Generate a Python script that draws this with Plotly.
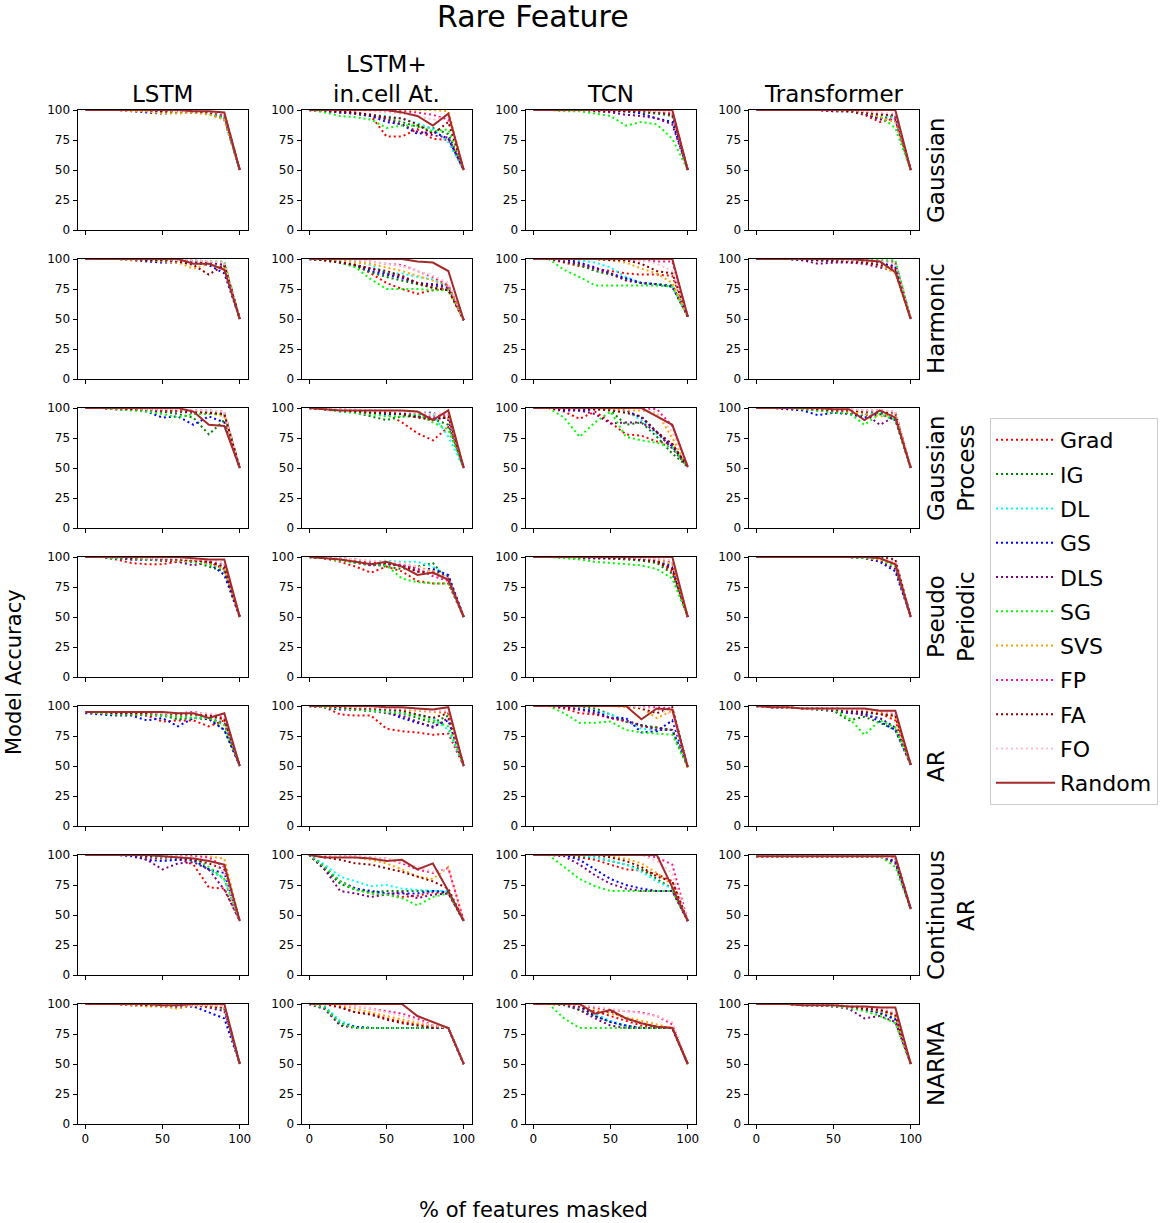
import plotly.graph_objects as go

# ---------------- data ----------------
PCT = [0, 10, 20, 30, 40, 50, 60, 70, 80, 90, 100]
METHODS = ["Grad", "IG", "DL", "GS", "DLS", "SG", "SVS", "FP", "FA", "FO", "Random"]
COLORS = ["#ff0000", "#008000", "#00ffff", "#0000ff", "#800080", "#00ff00",
          "#ffa500", "#ff1493", "#8b0000", "#ffc0cb", "#a52a2a"]
MODELS = ["LSTM", "LSTM+<br>in.cell At.", "TCN", "Transformer"]
DATASETS = ["Gaussian", "Harmonic", "Gaussian<br>Process", "Pseudo<br>Periodic",
            "AR", "Continuous<br>AR", "NARMA"]
X_TICKS = [0, 50, 100]
Y_TICKS = [0, 25, 50, 75, 100]

# each panel: rows follow METHODS order, columns follow PCT
LSTM_GAUSSIAN = [
    [100, 100, 100, 100, 99, 99, 99, 99, 98, 96, 50],
    [100, 100, 100, 100, 99, 99, 99, 98, 98, 94, 50],
    [100, 100, 100, 100, 100, 99, 99, 99, 98, 95, 50],
    [100, 100, 100, 99, 98, 97, 98, 98, 97, 92, 50],
    [100, 100, 100, 100, 99, 99, 98, 98, 97, 94, 50],
    [100, 100, 100, 100, 99, 99, 98, 98, 97, 93, 50],
    [100, 100, 100, 99, 99, 97, 97, 98, 96, 92, 50],
    [100, 100, 100, 100, 100, 99, 99, 99, 98, 96, 50],
    [100, 100, 100, 100, 100, 99, 99, 99, 98, 97, 50],
    [100, 100, 100, 100, 100, 100, 99, 99, 99, 97, 50],
    [100, 100, 100, 100, 100, 100, 100, 99, 99, 98, 50],
]
LSTMCELL_GAUSSIAN = [
    [100, 99, 98, 97, 95, 78, 78, 84, 76, 75, 50],
    [100, 99, 98, 97, 95, 93, 90, 86, 85, 80, 50],
    [100, 99, 98, 97, 96, 95, 93, 89, 84, 73, 50],
    [100, 99, 98, 97, 95, 90, 88, 80, 82, 76, 50],
    [100, 99, 98, 97, 96, 92, 88, 82, 79, 77, 50],
    [100, 98, 95, 94, 92, 85, 87, 87, 82, 84, 50],
    [100, 100, 100, 100, 100, 100, 100, 100, 100, 99, 50],
    [100, 100, 100, 100, 100, 99, 99, 98, 96, 92, 50],
    [100, 100, 99, 98, 96, 94, 93, 88, 80, 90, 50],
    [100, 100, 100, 100, 99, 98, 97, 95, 92, 95, 50],
    [100, 100, 100, 100, 100, 100, 98, 95, 87, 97, 50],
]
TCN_GAUSSIAN = [
    [100, 100, 100, 100, 100, 100, 99, 99, 98, 97, 50],
    [100, 100, 100, 100, 100, 99, 99, 98, 97, 95, 50],
    [100, 100, 100, 100, 100, 100, 99, 99, 98, 96, 50],
    [100, 100, 100, 100, 100, 99, 99, 97, 93, 90, 50],
    [100, 100, 100, 100, 99, 98, 96, 95, 93, 88, 50],
    [100, 100, 99, 99, 97, 95, 87, 90, 88, 76, 50],
    [100, 100, 100, 100, 100, 100, 100, 99, 99, 98, 50],
    [100, 100, 100, 100, 100, 100, 100, 100, 99, 98, 50],
    [100, 100, 100, 100, 100, 100, 99, 99, 98, 96, 50],
    [100, 100, 100, 100, 100, 100, 100, 100, 99, 99, 50],
    [100, 100, 100, 100, 100, 100, 100, 100, 100, 100, 50],
]
TRANSFORMER_GAUSSIAN = [
    [100, 100, 100, 100, 100, 100, 99, 96, 90, 93, 50],
    [100, 100, 100, 100, 100, 100, 99, 97, 93, 95, 50],
    [100, 100, 100, 100, 100, 100, 99, 98, 96, 94, 50],
    [100, 100, 100, 100, 100, 99, 99, 97, 93, 91, 50],
    [100, 100, 100, 100, 100, 99, 99, 97, 92, 92, 50],
    [100, 100, 100, 100, 100, 100, 99, 98, 95, 85, 50],
    [100, 100, 100, 100, 100, 100, 99, 98, 94, 90, 50],
    [100, 100, 100, 100, 100, 100, 100, 99, 97, 95, 50],
    [100, 100, 100, 100, 100, 100, 99, 98, 96, 96, 50],
    [100, 100, 100, 100, 100, 100, 100, 99, 98, 97, 50],
    [100, 100, 100, 100, 100, 100, 100, 100, 100, 100, 50],
]

LSTM_HARMONIC = [
    [100, 100, 100, 100, 99, 99, 99, 98, 97, 95, 50],
    [100, 100, 100, 100, 99, 99, 99, 98, 97, 96, 50],
    [100, 100, 100, 100, 99, 99, 99, 98, 96, 93, 50],
    [100, 100, 100, 99, 98, 97, 97, 97, 95, 88, 50],
    [100, 100, 100, 100, 99, 99, 98, 98, 97, 95, 50],
    [100, 100, 100, 100, 100, 99, 99, 99, 98, 98, 50],
    [100, 100, 100, 99, 99, 98, 97, 92, 96, 92, 50],
    [100, 100, 100, 100, 100, 100, 99, 99, 98, 97, 50],
    [100, 100, 100, 100, 99, 99, 98, 95, 87, 95, 50],
    [100, 100, 100, 100, 100, 100, 99, 99, 98, 97, 50],
    [100, 100, 100, 100, 100, 100, 100, 96, 96, 91, 50],
]
LSTMCELL_HARMONIC = [
    [100, 99, 97, 95, 88, 80, 75, 71, 74, 75, 49],
    [100, 99, 97, 94, 89, 85, 82, 79, 76, 74, 49],
    [100, 100, 99, 98, 95, 88, 88, 85, 83, 77, 49],
    [100, 99, 98, 95, 90, 87, 84, 80, 79, 78, 49],
    [100, 99, 97, 95, 92, 88, 85, 80, 78, 76, 49],
    [100, 99, 97, 93, 83, 75, 75, 75, 74, 74, 49],
    [100, 100, 99, 97, 96, 93, 90, 86, 82, 78, 49],
    [100, 100, 100, 99, 98, 96, 95, 90, 85, 78, 49],
    [100, 99, 97, 95, 92, 90, 86, 80, 76, 74, 49],
    [100, 100, 100, 99, 98, 96, 94, 90, 86, 80, 49],
    [100, 100, 100, 100, 100, 100, 100, 98, 97, 90, 49],
]
TCN_HARMONIC = [
    [100, 100, 97, 94, 92, 90, 88, 87, 87, 86, 52],
    [100, 100, 98, 95, 90, 87, 83, 80, 79, 78, 52],
    [100, 100, 100, 99, 97, 93, 85, 80, 79, 77, 52],
    [100, 100, 100, 97, 93, 88, 84, 80, 79, 77, 52],
    [100, 100, 98, 96, 92, 88, 82, 80, 79, 77, 52],
    [100, 100, 91, 85, 78, 78, 78, 78, 78, 77, 52],
    [100, 100, 100, 100, 100, 99, 97, 92, 88, 80, 52],
    [100, 100, 100, 100, 100, 100, 99, 99, 98, 98, 52],
    [100, 100, 100, 100, 100, 99, 99, 96, 90, 88, 52],
    [100, 100, 100, 100, 100, 100, 100, 99, 96, 90, 52],
    [100, 100, 100, 100, 100, 100, 100, 100, 100, 100, 52],
]
TRANSFORMER_HARMONIC = [
    [100, 100, 100, 100, 100, 99, 99, 98, 97, 93, 50],
    [100, 100, 100, 100, 99, 99, 99, 99, 98, 97, 50],
    [100, 100, 100, 100, 100, 99, 99, 99, 98, 96, 50],
    [100, 100, 100, 99, 99, 98, 98, 98, 97, 94, 50],
    [100, 100, 100, 99, 96, 97, 97, 96, 93, 90, 50],
    [100, 100, 100, 100, 100, 100, 100, 100, 99, 99, 50],
    [100, 100, 100, 100, 100, 99, 99, 98, 95, 88, 50],
    [100, 100, 100, 100, 100, 100, 99, 99, 98, 97, 50],
    [100, 100, 100, 100, 99, 99, 98, 97, 95, 92, 50],
    [100, 100, 100, 100, 100, 100, 99, 99, 98, 96, 50],
    [100, 100, 100, 100, 100, 100, 100, 99, 98, 89, 50],
]

LSTM_GP = [
    [100, 100, 100, 99, 99, 98, 98, 97, 97, 96, 50],
    [100, 100, 99, 99, 98, 97, 95, 92, 78, 90, 50],
    [100, 100, 100, 99, 99, 98, 98, 97, 97, 95, 50],
    [100, 100, 99, 99, 97, 92, 93, 86, 93, 88, 50],
    [100, 100, 99, 99, 98, 97, 97, 96, 96, 94, 50],
    [100, 100, 99, 98, 97, 95, 92, 95, 95, 95, 50],
    [100, 100, 100, 99, 99, 98, 98, 97, 96, 93, 50],
    [100, 100, 100, 100, 99, 99, 99, 98, 98, 97, 50],
    [100, 100, 100, 99, 99, 98, 98, 97, 96, 95, 50],
    [100, 100, 100, 100, 99, 99, 99, 98, 98, 97, 50],
    [100, 100, 100, 100, 100, 100, 100, 97, 86, 85, 50],
]
LSTMCELL_GP = [
    [100, 99, 98, 97, 96, 95, 88, 79, 73, 84, 50],
    [100, 99, 98, 96, 93, 90, 93, 93, 91, 86, 50],
    [100, 99, 97, 96, 95, 94, 95, 94, 95, 76, 50],
    [100, 99, 98, 97, 96, 95, 95, 96, 96, 90, 50],
    [100, 99, 98, 97, 97, 96, 95, 93, 91, 92, 50],
    [100, 99, 97, 96, 95, 93, 93, 95, 88, 82, 50],
    [100, 99, 99, 98, 98, 97, 97, 96, 95, 92, 50],
    [100, 99, 99, 98, 98, 97, 97, 96, 92, 95, 50],
    [100, 99, 98, 97, 96, 96, 95, 92, 90, 93, 50],
    [100, 100, 99, 99, 98, 98, 97, 96, 95, 96, 50],
    [100, 99, 98, 98, 98, 98, 98, 97, 90, 98, 50],
]
TCN_GP = [
    [100, 100, 97, 91, 97, 88, 78, 77, 72, 70, 51],
    [100, 100, 99, 98, 99, 98, 86, 88, 76, 62, 51],
    [100, 100, 100, 99, 99, 98, 97, 90, 78, 68, 51],
    [100, 100, 98, 98, 99, 100, 98, 92, 80, 68, 51],
    [100, 100, 99, 98, 95, 87, 88, 88, 80, 66, 51],
    [100, 100, 92, 76, 88, 97, 76, 73, 71, 67, 51],
    [100, 100, 100, 100, 100, 99, 98, 98, 96, 75, 51],
    [100, 100, 100, 100, 100, 100, 100, 100, 99, 85, 51],
    [100, 100, 100, 100, 99, 98, 96, 93, 80, 70, 51],
    [100, 100, 100, 100, 100, 100, 100, 99, 95, 80, 51],
    [100, 100, 100, 100, 100, 100, 100, 100, 93, 86, 51],
]
TRANSFORMER_GP = [
    [100, 100, 100, 100, 99, 98, 97, 96, 96, 93, 50],
    [100, 100, 100, 99, 98, 97, 96, 94, 96, 91, 50],
    [100, 100, 100, 99, 98, 97, 96, 95, 97, 92, 50],
    [100, 100, 99, 98, 94, 96, 95, 92, 95, 90, 50],
    [100, 100, 100, 99, 98, 97, 96, 96, 86, 93, 50],
    [100, 100, 100, 99, 98, 96, 96, 86, 95, 90, 50],
    [100, 100, 100, 100, 99, 98, 97, 95, 93, 94, 50],
    [100, 100, 100, 100, 100, 99, 99, 98, 98, 97, 50],
    [100, 100, 100, 100, 99, 98, 98, 97, 97, 96, 50],
    [100, 100, 100, 100, 100, 99, 99, 98, 98, 97, 50],
    [100, 100, 100, 100, 100, 99, 99, 90, 98, 92, 50],
]

LSTM_PP = [
    [100, 100, 98, 95, 94, 94, 96, 97, 96, 90, 50],
    [100, 100, 99, 98, 98, 97, 97, 96, 92, 88, 50],
    [100, 100, 99, 99, 98, 98, 97, 97, 96, 92, 50],
    [100, 100, 99, 98, 98, 98, 97, 96, 95, 85, 50],
    [100, 100, 99, 99, 98, 97, 96, 93, 96, 90, 50],
    [100, 100, 99, 99, 98, 98, 97, 96, 94, 90, 50],
    [100, 100, 100, 99, 99, 98, 97, 97, 95, 90, 50],
    [100, 100, 100, 100, 99, 99, 98, 98, 97, 94, 50],
    [100, 100, 100, 99, 99, 98, 98, 97, 96, 92, 50],
    [100, 100, 100, 100, 99, 99, 99, 98, 98, 95, 50],
    [100, 100, 100, 100, 100, 100, 100, 99, 98, 98, 50],
]
LSTMCELL_PP = [
    [100, 99, 96, 92, 87, 92, 88, 80, 78, 78, 50],
    [100, 99, 98, 96, 94, 92, 90, 92, 95, 80, 50],
    [100, 100, 99, 98, 96, 97, 96, 96, 92, 84, 50],
    [100, 100, 98, 96, 93, 94, 93, 90, 90, 85, 50],
    [100, 99, 98, 95, 93, 94, 93, 88, 88, 84, 50],
    [100, 99, 97, 95, 94, 93, 82, 79, 78, 78, 50],
    [100, 100, 99, 98, 96, 96, 95, 92, 88, 82, 50],
    [100, 100, 99, 98, 96, 95, 94, 90, 84, 80, 50],
    [100, 99, 98, 96, 94, 95, 92, 88, 86, 82, 50],
    [100, 100, 99, 98, 97, 96, 95, 92, 86, 82, 50],
    [100, 99, 98, 96, 94, 96, 92, 85, 87, 81, 50],
]
TCN_PP = [
    [100, 100, 100, 100, 99, 99, 99, 98, 96, 88, 50],
    [100, 100, 100, 99, 99, 99, 98, 97, 95, 86, 50],
    [100, 100, 100, 100, 100, 100, 99, 99, 98, 95, 50],
    [100, 100, 100, 100, 100, 99, 99, 98, 97, 92, 50],
    [100, 100, 100, 99, 99, 99, 99, 98, 97, 90, 50],
    [100, 100, 99, 98, 96, 95, 94, 93, 90, 82, 50],
    [100, 100, 100, 100, 100, 100, 99, 99, 98, 94, 50],
    [100, 100, 100, 100, 100, 100, 100, 99, 99, 96, 50],
    [100, 100, 100, 100, 100, 99, 99, 98, 96, 90, 50],
    [100, 100, 100, 100, 100, 100, 100, 99, 99, 97, 50],
    [100, 100, 100, 100, 100, 100, 100, 100, 100, 100, 50],
]
TRANSFORMER_PP = [
    [100, 100, 100, 100, 100, 100, 100, 100, 99, 96, 50],
    [100, 100, 100, 100, 100, 100, 100, 99, 98, 93, 50],
    [100, 100, 100, 100, 100, 100, 100, 100, 99, 95, 50],
    [100, 100, 100, 100, 100, 100, 100, 99, 96, 88, 50],
    [100, 100, 100, 100, 100, 100, 100, 99, 97, 90, 50],
    [100, 100, 100, 100, 100, 100, 100, 99, 98, 92, 50],
    [100, 100, 100, 100, 100, 100, 100, 100, 98, 94, 50],
    [100, 100, 100, 100, 100, 100, 100, 100, 99, 95, 50],
    [100, 100, 100, 100, 100, 100, 100, 100, 100, 98, 50],
    [100, 100, 100, 100, 100, 100, 100, 100, 99, 96, 50],
    [100, 100, 100, 100, 100, 100, 100, 100, 99, 94, 50],
]

LSTM_AR = [
    [95, 94, 94, 94, 92, 87, 88, 88, 83, 88, 50],
    [95, 94, 94, 93, 93, 92, 89, 90, 90, 80, 50],
    [95, 95, 94, 94, 94, 93, 93, 92, 91, 86, 50],
    [94, 93, 92, 92, 88, 90, 83, 90, 89, 80, 50],
    [95, 94, 94, 93, 92, 92, 91, 90, 90, 85, 50],
    [95, 94, 93, 93, 93, 92, 91, 90, 90, 84, 50],
    [95, 95, 95, 94, 94, 94, 93, 93, 92, 88, 50],
    [95, 95, 95, 95, 94, 94, 94, 95, 93, 90, 50],
    [95, 95, 94, 94, 94, 94, 93, 93, 92, 89, 50],
    [95, 95, 95, 95, 95, 94, 94, 94, 94, 92, 50],
    [95, 95, 95, 95, 95, 95, 94, 94, 90, 94, 50],
]
LSTMCELL_AR = [
    [100, 99, 93, 92, 92, 81, 79, 78, 76, 77, 50],
    [100, 99, 98, 97, 96, 95, 94, 90, 86, 92, 50],
    [100, 100, 99, 98, 97, 96, 94, 93, 90, 80, 50],
    [100, 99, 97, 97, 96, 95, 90, 86, 83, 88, 50],
    [100, 99, 98, 97, 96, 94, 92, 87, 82, 90, 50],
    [100, 99, 98, 97, 96, 95, 94, 92, 88, 83, 50],
    [100, 100, 99, 99, 98, 98, 97, 96, 95, 94, 50],
    [100, 100, 100, 99, 99, 98, 98, 97, 96, 95, 50],
    [100, 100, 99, 98, 98, 97, 96, 93, 90, 94, 50],
    [100, 100, 100, 99, 99, 98, 98, 97, 96, 96, 50],
    [100, 100, 100, 100, 100, 99, 99, 98, 97, 99, 50],
]
TCN_AR = [
    [100, 100, 98, 94, 93, 90, 87, 83, 82, 80, 49],
    [100, 100, 100, 99, 98, 93, 87, 84, 82, 80, 49],
    [100, 100, 99, 98, 96, 93, 88, 81, 80, 80, 49],
    [100, 100, 99, 97, 96, 90, 90, 78, 79, 88, 49],
    [100, 100, 99, 97, 94, 90, 88, 84, 80, 80, 49],
    [100, 100, 94, 86, 86, 87, 80, 78, 77, 76, 49],
    [100, 100, 100, 100, 100, 100, 99, 98, 90, 96, 49],
    [100, 100, 100, 100, 100, 100, 100, 99, 99, 98, 49],
    [100, 100, 100, 100, 100, 100, 100, 98, 94, 99, 49],
    [100, 100, 100, 100, 100, 100, 100, 99, 97, 93, 49],
    [100, 100, 100, 100, 100, 100, 100, 89, 98, 97, 49],
]
TRANSFORMER_AR = [
    [100, 99, 99, 98, 98, 97, 96, 95, 94, 88, 51],
    [100, 99, 99, 98, 97, 96, 88, 91, 86, 80, 51],
    [100, 99, 99, 98, 98, 97, 96, 94, 90, 82, 51],
    [100, 99, 99, 98, 97, 96, 94, 94, 87, 80, 51],
    [100, 99, 99, 98, 97, 96, 95, 92, 90, 82, 51],
    [100, 99, 99, 98, 97, 97, 90, 76, 88, 82, 51],
    [100, 99, 99, 98, 98, 98, 97, 96, 95, 90, 51],
    [100, 99, 99, 98, 98, 98, 97, 97, 96, 93, 51],
    [100, 99, 99, 98, 98, 97, 96, 95, 93, 92, 51],
    [100, 99, 99, 98, 98, 98, 97, 97, 96, 94, 51],
    [100, 99, 99, 98, 98, 98, 98, 98, 96, 96, 51],
]

LSTM_CAR = [
    [100, 100, 100, 100, 98, 97, 97, 92, 73, 72, 45],
    [100, 100, 100, 100, 99, 98, 98, 95, 88, 80, 45],
    [100, 100, 100, 100, 99, 98, 98, 95, 88, 80, 45],
    [100, 100, 100, 99, 96, 95, 96, 96, 88, 85, 45],
    [100, 100, 100, 100, 96, 88, 93, 94, 88, 71, 45],
    [100, 100, 100, 100, 100, 100, 99, 98, 90, 80, 45],
    [100, 100, 100, 100, 100, 100, 100, 99, 99, 97, 45],
    [100, 100, 100, 100, 100, 100, 99, 99, 98, 90, 45],
    [100, 100, 100, 100, 99, 99, 98, 96, 93, 88, 45],
    [100, 100, 100, 100, 100, 100, 99, 98, 96, 85, 45],
    [100, 100, 100, 100, 100, 99, 98, 97, 95, 92, 45],
]
LSTMCELL_CAR = [
    [100, 88, 78, 72, 68, 67, 65, 66, 69, 68, 45],
    [100, 88, 76, 71, 69, 70, 70, 70, 70, 69, 45],
    [100, 92, 82, 78, 74, 75, 72, 71, 70, 70, 45],
    [100, 90, 78, 72, 70, 68, 68, 68, 70, 69, 45],
    [100, 88, 70, 68, 65, 67, 69, 64, 67, 68, 45],
    [100, 90, 78, 71, 68, 67, 64, 58, 65, 68, 45],
    [100, 100, 99, 98, 96, 93, 88, 82, 80, 90, 45],
    [100, 99, 99, 99, 98, 97, 93, 88, 85, 89, 45],
    [100, 98, 96, 93, 92, 89, 86, 82, 78, 72, 45],
    [100, 100, 99, 99, 98, 97, 94, 90, 86, 88, 45],
    [100, 98, 98, 98, 97, 95, 96, 88, 93, 70, 45],
]
TCN_CAR = [
    [100, 100, 100, 98, 96, 92, 88, 87, 84, 78, 45],
    [100, 100, 100, 99, 98, 95, 92, 88, 80, 72, 45],
    [100, 100, 100, 100, 98, 95, 92, 86, 78, 72, 45],
    [100, 100, 100, 96, 88, 80, 75, 72, 70, 70, 45],
    [100, 100, 99, 92, 83, 76, 72, 70, 70, 70, 45],
    [100, 100, 90, 80, 74, 70, 70, 70, 70, 70, 45],
    [100, 100, 100, 100, 100, 99, 97, 93, 85, 75, 45],
    [100, 100, 100, 100, 100, 100, 100, 100, 98, 92, 45],
    [100, 100, 100, 100, 100, 98, 95, 90, 82, 78, 45],
    [100, 100, 100, 100, 100, 100, 100, 100, 95, 85, 45],
    [100, 100, 100, 100, 100, 100, 100, 100, 100, 73, 45],
]
TRANSFORMER_CAR = [
    [99, 99, 99, 99, 99, 99, 99, 99, 99, 97, 55],
    [99, 99, 99, 99, 99, 99, 99, 99, 99, 94, 55],
    [99, 99, 99, 99, 99, 99, 99, 99, 99, 96, 55],
    [99, 99, 99, 99, 99, 99, 99, 99, 99, 95, 55],
    [99, 99, 99, 99, 99, 99, 99, 99, 99, 93, 55],
    [99, 99, 99, 99, 99, 99, 99, 99, 99, 90, 55],
    [99, 99, 99, 99, 99, 99, 99, 99, 99, 98, 55],
    [99, 99, 99, 99, 99, 99, 99, 99, 99, 98, 55],
    [99, 99, 99, 99, 99, 99, 99, 99, 99, 98, 55],
    [99, 99, 99, 99, 99, 99, 99, 99, 99, 97, 55],
    [99, 99, 99, 99, 99, 99, 99, 99, 99, 99, 55],
]

LSTM_NARMA = [
    [100, 100, 100, 100, 99, 99, 99, 99, 99, 98, 50],
    [100, 100, 100, 100, 99, 99, 98, 99, 98, 96, 50],
    [100, 100, 100, 99, 99, 99, 99, 99, 98, 96, 50],
    [100, 100, 100, 99, 99, 98, 97, 98, 93, 88, 50],
    [100, 100, 100, 99, 99, 98, 98, 99, 97, 94, 50],
    [100, 100, 100, 100, 99, 99, 99, 99, 98, 97, 50],
    [100, 100, 100, 99, 98, 98, 96, 99, 98, 97, 50],
    [100, 100, 100, 100, 100, 99, 99, 99, 99, 98, 50],
    [100, 100, 100, 100, 99, 99, 99, 99, 98, 97, 50],
    [100, 100, 100, 100, 100, 99, 99, 99, 99, 98, 50],
    [100, 100, 100, 100, 100, 99, 99, 100, 100, 100, 50],
]
LSTMCELL_NARMA = [
    [100, 100, 98, 93, 92, 88, 85, 83, 81, 80, 50],
    [100, 96, 83, 81, 80, 80, 80, 80, 80, 80, 50],
    [100, 98, 86, 81, 80, 80, 80, 80, 80, 80, 50],
    [100, 97, 84, 81, 80, 80, 80, 80, 80, 80, 50],
    [100, 96, 82, 80, 80, 80, 80, 80, 80, 80, 50],
    [100, 97, 84, 80, 80, 80, 80, 80, 80, 80, 50],
    [100, 100, 99, 96, 93, 90, 87, 84, 82, 80, 50],
    [100, 100, 100, 98, 96, 94, 92, 88, 82, 80, 50],
    [100, 100, 97, 93, 91, 87, 84, 82, 80, 80, 50],
    [100, 100, 100, 98, 96, 93, 90, 86, 82, 80, 50],
    [100, 100, 100, 100, 100, 100, 100, 90, 85, 80, 50],
]
TCN_NARMA = [
    [100, 100, 100, 97, 94, 90, 86, 82, 81, 80, 50],
    [100, 100, 99, 95, 90, 85, 82, 80, 80, 80, 50],
    [100, 100, 100, 97, 92, 86, 82, 80, 80, 80, 50],
    [100, 100, 100, 98, 90, 85, 82, 80, 80, 80, 50],
    [100, 100, 100, 95, 88, 82, 80, 80, 80, 80, 50],
    [100, 100, 88, 80, 80, 80, 80, 80, 80, 80, 50],
    [100, 100, 100, 99, 96, 92, 89, 86, 83, 80, 50],
    [100, 100, 100, 99, 97, 95, 94, 93, 90, 83, 50],
    [100, 100, 100, 98, 92, 94, 88, 84, 81, 80, 50],
    [100, 100, 100, 99, 98, 96, 94, 92, 90, 85, 50],
    [100, 100, 100, 100, 92, 95, 88, 84, 81, 80, 50],
]
TRANSFORMER_NARMA = [
    [100, 100, 100, 100, 99, 99, 98, 97, 95, 90, 50],
    [100, 100, 100, 99, 99, 98, 97, 96, 92, 88, 50],
    [100, 100, 100, 100, 99, 99, 98, 97, 94, 90, 50],
    [100, 100, 100, 99, 99, 98, 97, 95, 93, 87, 50],
    [100, 100, 100, 99, 99, 98, 96, 88, 90, 85, 50],
    [100, 100, 100, 99, 99, 98, 97, 94, 90, 84, 50],
    [100, 100, 100, 100, 99, 99, 98, 96, 94, 90, 50],
    [100, 100, 100, 100, 99, 99, 98, 97, 96, 92, 50],
    [100, 100, 100, 100, 99, 99, 98, 96, 95, 91, 50],
    [100, 100, 100, 100, 100, 99, 99, 98, 97, 93, 50],
    [100, 100, 100, 99, 99, 99, 98, 98, 97, 97, 50],
]

GRID = [
    [LSTM_GAUSSIAN, LSTMCELL_GAUSSIAN, TCN_GAUSSIAN, TRANSFORMER_GAUSSIAN],
    [LSTM_HARMONIC, LSTMCELL_HARMONIC, TCN_HARMONIC, TRANSFORMER_HARMONIC],
    [LSTM_GP, LSTMCELL_GP, TCN_GP, TRANSFORMER_GP],
    [LSTM_PP, LSTMCELL_PP, TCN_PP, TRANSFORMER_PP],
    [LSTM_AR, LSTMCELL_AR, TCN_AR, TRANSFORMER_AR],
    [LSTM_CAR, LSTMCELL_CAR, TCN_CAR, TRANSFORMER_CAR],
    [LSTM_NARMA, LSTMCELL_NARMA, TCN_NARMA, TRANSFORMER_NARMA],
]

# ---------------- layout ----------------
W, H = 1171, 1223
FONT = "DejaVu Sans"
COL_LEFT = [77.5, 301.5, 525.5, 748.5]
PW = 170
ROW_TOP = [110 + 149 * r for r in range(7)]
PH = 120


def px_x(p):
    return p / W


def px_y(p):
    return 1 - p / H


fig = go.Figure()
layout = {}
n_rows = len(GRID)
for r, row in enumerate(GRID):
    for c, panel in enumerate(row):
        idx = r * 4 + c + 1
        sfx = "" if idx == 1 else str(idx)
        for m, (name, color) in enumerate(zip(METHODS, COLORS)):
            is_rand = name == "Random"
            fig.add_trace(go.Scatter(
                x=PCT, y=panel[m], mode="lines", name=name,
                legendgroup=name, showlegend=(idx == 1),
                line=dict(color=color, width=2,
                          dash="solid" if is_rand else "2px,3px"),
                xaxis="x" + sfx, yaxis="y" + sfx, hoverinfo="skip",
            ))
        layout["xaxis" + sfx] = dict(
            domain=[px_x(COL_LEFT[c]), px_x(COL_LEFT[c] + PW)],
            anchor="y" + sfx, range=[-5, 105], tickvals=X_TICKS,
            ticks="outside", ticklen=4, tickcolor="black", tickwidth=1,
            showline=True, mirror=True, linecolor="black", linewidth=1,
            showgrid=False, zeroline=False, automargin=False,
            showticklabels=(r == n_rows - 1),
            tickfont=dict(size=12, color="black", family=FONT),
        )
        layout["yaxis" + sfx] = dict(
            domain=[px_y(ROW_TOP[r] + PH), px_y(ROW_TOP[r])],
            anchor="x" + sfx, range=[0, 100], tickvals=Y_TICKS,
            ticks="outside", ticklen=4, tickcolor="black", tickwidth=1,
            showline=True, mirror=True, linecolor="black", linewidth=1,
            showgrid=False, zeroline=False, automargin=False,
            tickfont=dict(size=12, color="black", family=FONT),
        )

annotations = []
annotations.append(dict(text="Rare Feature", x=px_x(533), y=px_y(16),
                        xref="paper", yref="paper", showarrow=False,
                        xanchor="center", yanchor="middle",
                        font=dict(size=30, color="black", family=FONT)))
for c, name in enumerate(MODELS):
    annotations.append(dict(text=name, x=px_x(COL_LEFT[c] + PW / 2), y=px_y(109),
                            xref="paper", yref="paper", showarrow=False,
                            xanchor="center", yanchor="bottom",
                            font=dict(size=23, color="black", family=FONT)))
for r, name in enumerate(DATASETS):
    annotations.append(dict(text=name, x=px_x(921), y=px_y(ROW_TOP[r] + PH / 2),
                            xref="paper", yref="paper", showarrow=False,
                            textangle=-90, xanchor="left", yanchor="middle",
                            font=dict(size=23, color="black", family=FONT)))
annotations.append(dict(text="Model Accuracy", x=px_x(0), y=px_y(672),
                        xref="paper", yref="paper", showarrow=False,
                        textangle=-90, xanchor="left", yanchor="middle",
                        font=dict(size=21, color="black", family=FONT)))
annotations.append(dict(text="% of features masked", x=px_x(533), y=px_y(1210),
                        xref="paper", yref="paper", showarrow=False,
                        xanchor="center", yanchor="middle",
                        font=dict(size=21, color="black", family=FONT)))

fig.update_layout(
    **layout,
    annotations=annotations,
    width=W, height=H, autosize=False,
    margin=dict(l=0, r=0, t=0, b=0, pad=0, autoexpand=False),
    paper_bgcolor="white", plot_bgcolor="white",
    font=dict(family=FONT, color="black"),
    legend=dict(x=px_x(990), y=px_y(418), xanchor="left", yanchor="top",
                font=dict(size=22, color="black", family=FONT),
                bordercolor="#cccccc", borderwidth=1, bgcolor="white",
                tracegroupgap=2.7, itemwidth=59),
)

fig.write_html(
    "out.html",
    config={"displayModeBar": False},
    post_script="document.body.style.margin='0';document.body.style.overflow='hidden';",
)
